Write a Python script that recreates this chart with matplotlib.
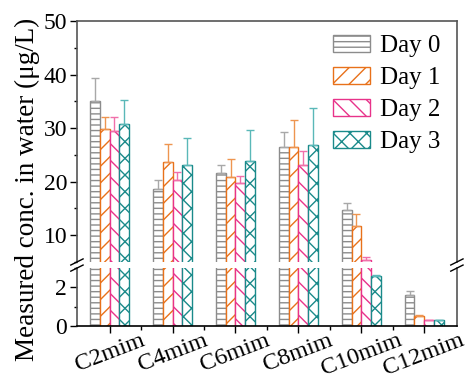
import numpy as np
import matplotlib.pyplot as plt
from matplotlib.ticker import MultipleLocator

plt.rcParams['font.family'] = ['Liberation Serif', 'DejaVu Serif']
plt.rcParams['hatch.linewidth'] = 1.0

compounds = ['C2mim', 'C4mim', 'C6mim', 'C8mim', 'C10mim', 'C12mim']
days = ['Day 0', 'Day 1', 'Day 2', 'Day 3']

# measured concentrations (ug/L) and upper error
day0 = [35.1, 18.6, 21.7, 26.4, 14.8, 1.6]
day1 = [29.9, 23.6, 20.8, 26.4, 11.7, 0.52]
day2 = [29.4, 20.4, 19.7, 23.2, 5.3, 0.3]
day3 = [30.7, 23.2, 23.8, 26.9, 2.6, 0.3]
err0 = [4.3, 1.8, 1.5, 2.8, 1.3, 0.2]
err1 = [2.1, 3.5, 3.4, 5.2, 2.2, 0.04]
err2 = [2.6, 1.4, 1.3, 2.6, 0.6, 0.02]
err3 = [4.6, 5.0, 5.8, 6.9, 0.05, 0.02]

values = [day0, day1, day2, day3]
errors = [err0, err1, err2, err3]
edge_colors = ['#8c8c8c', '#e8711a', '#e8338a', '#1a8a8a']
err_colors = ['#a8a8a8', '#ee9550', '#f070aa', '#5ab8b8']
hatches = ['---', '//', '\\\\', 'xx']

fig = plt.figure(figsize=(4.72, 3.83), dpi=100)
ax_top = fig.add_axes([0.163, 0.316, 0.805, 0.629])
ax_bot = fig.add_axes([0.163, 0.149, 0.805, 0.151])

x = np.arange(len(compounds))
w = 0.154
for ax in (ax_top, ax_bot):
    for i in range(4):
        pos = x + (i - 1.5) * w
        ax.bar(pos, values[i], w, color='white', edgecolor=edge_colors[i],
               hatch=hatches[i], linewidth=1.0, label=days[i])
        ax.errorbar(pos, values[i], yerr=[np.zeros(6), errors[i]], fmt='none',
                    ecolor=err_colors[i], elinewidth=1.0, capsize=3, capthick=1.0)
    ax.set_xlim(-0.52, 5.52)
    for s in ax.spines.values():
        s.set_color('#555555')
        s.set_linewidth(1.2)
    ax.tick_params(axis='y', which='major', direction='out', length=5, width=1,
                   labelsize=17, pad=2)
    ax.tick_params(axis='y', which='minor', direction='out', length=2.5, width=1)

ax_top.set_ylim(5, 50)
ax_top.yaxis.set_major_locator(MultipleLocator(10))
ax_top.yaxis.set_minor_locator(MultipleLocator(5))
ax_top.spines['bottom'].set_visible(False)
ax_top.tick_params(axis='x', which='both', bottom=False, labelbottom=False)

ax_bot.set_ylim(0, 3)
ax_bot.yaxis.set_major_locator(MultipleLocator(2))
ax_bot.yaxis.set_minor_locator(MultipleLocator(1))
ax_bot.spines['top'].set_visible(False)
ax_bot.spines['bottom'].set_color('black')
ax_bot.set_xticks(x)
ax_bot.set_xticks(x[:-1] + 0.5, minor=True)
ax_bot.set_xticklabels(compounds, rotation=21, ha='center', fontsize=17.5)
ax_bot.tick_params(axis='x', which='major', direction='out', length=5, width=1, pad=-2)
ax_bot.tick_params(axis='x', which='minor', direction='out', length=3, width=1)

# break marks
for xf in (0.163, 0.968):
    for yf in (0.316, 0.300):
        fig.lines.append(plt.Line2D([xf - 0.013, xf + 0.013], [yf - 0.008, yf + 0.008],
                                    transform=fig.transFigure, color='black', lw=1.0))

fig.text(0.058, 0.505, 'Measured conc. in water (\u03bcg/L)', rotation=90,
         ha='center', va='center', fontsize=19.5)

ax_top.legend(loc='upper right', bbox_to_anchor=(0.995, 1.005), frameon=False,
              fontsize=18, handlelength=1.45, handleheight=0.7,
              labelspacing=0.38, handletextpad=0.4, borderaxespad=0.2)

fig.savefig('out.png', dpi=100)
